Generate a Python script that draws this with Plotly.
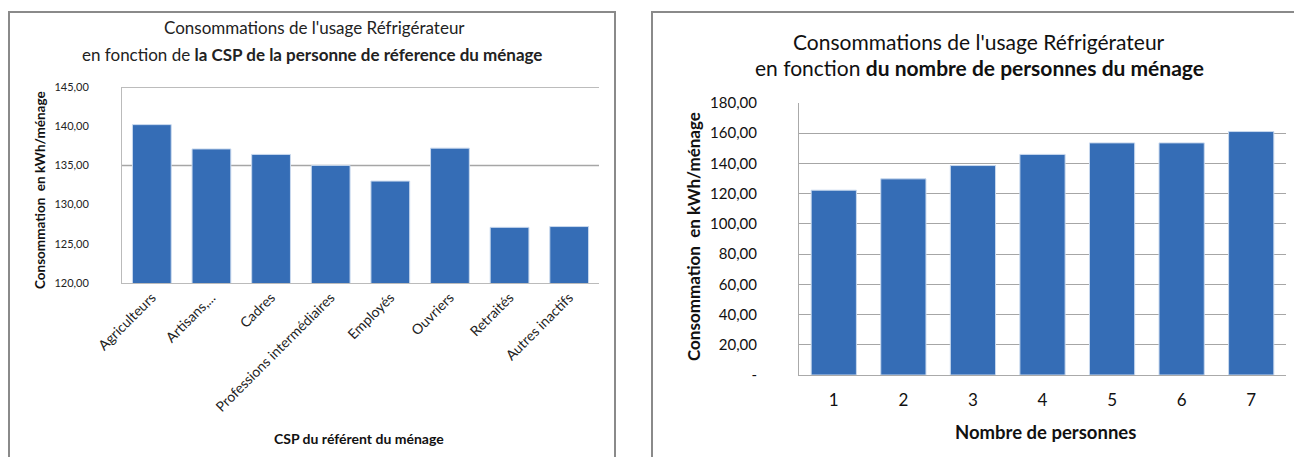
import plotly.graph_objects as go

W, H = 1294, 457

# ---- data ----
csp_categories = ["Agriculteurs", "Artisans,...", "Cadres", "Professions intermédiaires",
                  "Employés", "Ouvriers", "Retraités", "Autres inactifs"]
csp_values = [140.2, 137.1, 136.4, 135.0, 133.0, 137.2, 127.1, 127.2]
csp_ticks = [120, 125, 130, 135, 140, 145]
csp_ticklabels = ["120,00", "125,00", "130,00", "135,00", "140,00", "145,00"]
csp_gridlines = [135, 145]

pers_categories = ["1", "2", "3", "4", "5", "6", "7"]
pers_values = [122.3, 129.8, 138.6, 146.0, 153.6, 153.6, 161.1]
pers_ticks = [0, 20, 40, 60, 80, 100, 120, 140, 160, 180]
pers_ticklabels = ["-", "20,00", "40,00", "60,00", "80,00", "100,00", "120,00",
                   "140,00", "160,00", "180,00"]

FONT = "Lato"
BAR = "#356DB6"
EDGE = "#C9D9EE"


def px(x):
    return x / W


def py(y):
    return 1 - y / H


fig = go.Figure()
fig.add_trace(go.Bar(x=csp_categories, y=csp_values, xaxis="x", yaxis="y",
                     marker=dict(color=BAR, line=dict(color=EDGE, width=1)),
                     showlegend=False, hoverinfo="x+y"))
fig.add_trace(go.Bar(x=pers_categories, y=pers_values, xaxis="x2", yaxis="y2",
                     marker=dict(color=BAR, line=dict(color=EDGE, width=1)),
                     showlegend=False, hoverinfo="x+y"))

fig.update_layout(
    width=W, height=H,
    margin=dict(l=0, r=0, t=0, b=0, autoexpand=False),
    paper_bgcolor="white", plot_bgcolor="white",
    bargap=0.35,
    font=dict(family=FONT, color="#111", size=12),
    xaxis=dict(domain=[px(122), px(599)], anchor="y", tickangle=-45, automargin=False,
               tickfont=dict(size=14, color="#222"), showgrid=False,
               showline=True, linecolor="#BBBBBB", linewidth=1, ticks="",
               fixedrange=True),
    yaxis=dict(domain=[py(283), py(87)], anchor="x", range=[120, 145], automargin=False,
               tickvals=csp_ticks, ticktext=csp_ticklabels, showgrid=False,
               showline=True, linecolor="#BBBBBB", linewidth=1, ticks="",
               tickfont=dict(size=11, color="#222"), ticklabelstandoff=30,
               fixedrange=True),
    xaxis2=dict(domain=[px(799), px(1286)], anchor="y2", showgrid=False, automargin=False,
                showline=True, linecolor="#AAAAAA", linewidth=1, ticks="",
                tickfont=dict(size=17, color="#111"), ticklabelstandoff=10,
                fixedrange=True),
    yaxis2=dict(domain=[py(375), py(103)], anchor="x2", range=[0, 180], automargin=False,
                tickvals=pers_ticks, ticktext=pers_ticklabels,
                showgrid=True, gridcolor="#A6A6A6", gridwidth=1,
                showline=True, linecolor="#AAAAAA", linewidth=1, ticks="",
                tickfont=dict(size=15, color="#111"), ticklabelstandoff=38,
                fixedrange=True),
)

shapes = []
# gridlines of the left chart
for g in csp_gridlines:
    shapes.append(dict(type="line", xref="x domain", yref="y", x0=0, x1=1, y0=g, y1=g,
                       line=dict(color="#A6A6A6", width=1.5), layer="below"))
# chart frames
shapes.append(dict(type="rect", xref="paper", yref="paper", x0=px(9), x1=px(615),
                   y0=py(470), y1=py(12), line=dict(color="#8A8A8A", width=2)))
shapes.append(dict(type="rect", xref="paper", yref="paper", x0=px(652), x1=px(1310),
                   y0=py(470), y1=py(12), line=dict(color="#8A8A8A", width=2)))
fig.update_layout(shapes=shapes)


def note(text, x, y, size, angle=0, color="#111"):
    return dict(text=text, x=px(x), y=py(y), xref="paper", yref="paper",
                xanchor="center", yanchor="middle", showarrow=False, textangle=angle,
                font=dict(size=size, color=color, family=FONT))


ann = [
    note("Consommations de l'usage Réfrigérateur", 314, 28, 17, color="#222"),
    note("en fonction de <b>la CSP de la personne de réference du ménage</b>", 312, 55, 17,
         color="#222"),
    note("<b>Consommation  en kWh/ménage</b>", 40, 190, 13.5, angle=-90),
    note("<b>CSP du référent du ménage</b>", 359, 438, 14),
    note("Consommations de l'usage Réfrigérateur", 979, 42, 21),
    note("en fonction <b>du nombre de personnes du ménage</b>", 979, 68, 21),
    note("<b>Consommation  en kWh/ménage</b>", 693, 237, 17, angle=-90),
    note("<b>Nombre de personnes</b>", 1045, 432, 18.5),
]
fig.update_layout(annotations=ann)

fig.write_html("out.html")
